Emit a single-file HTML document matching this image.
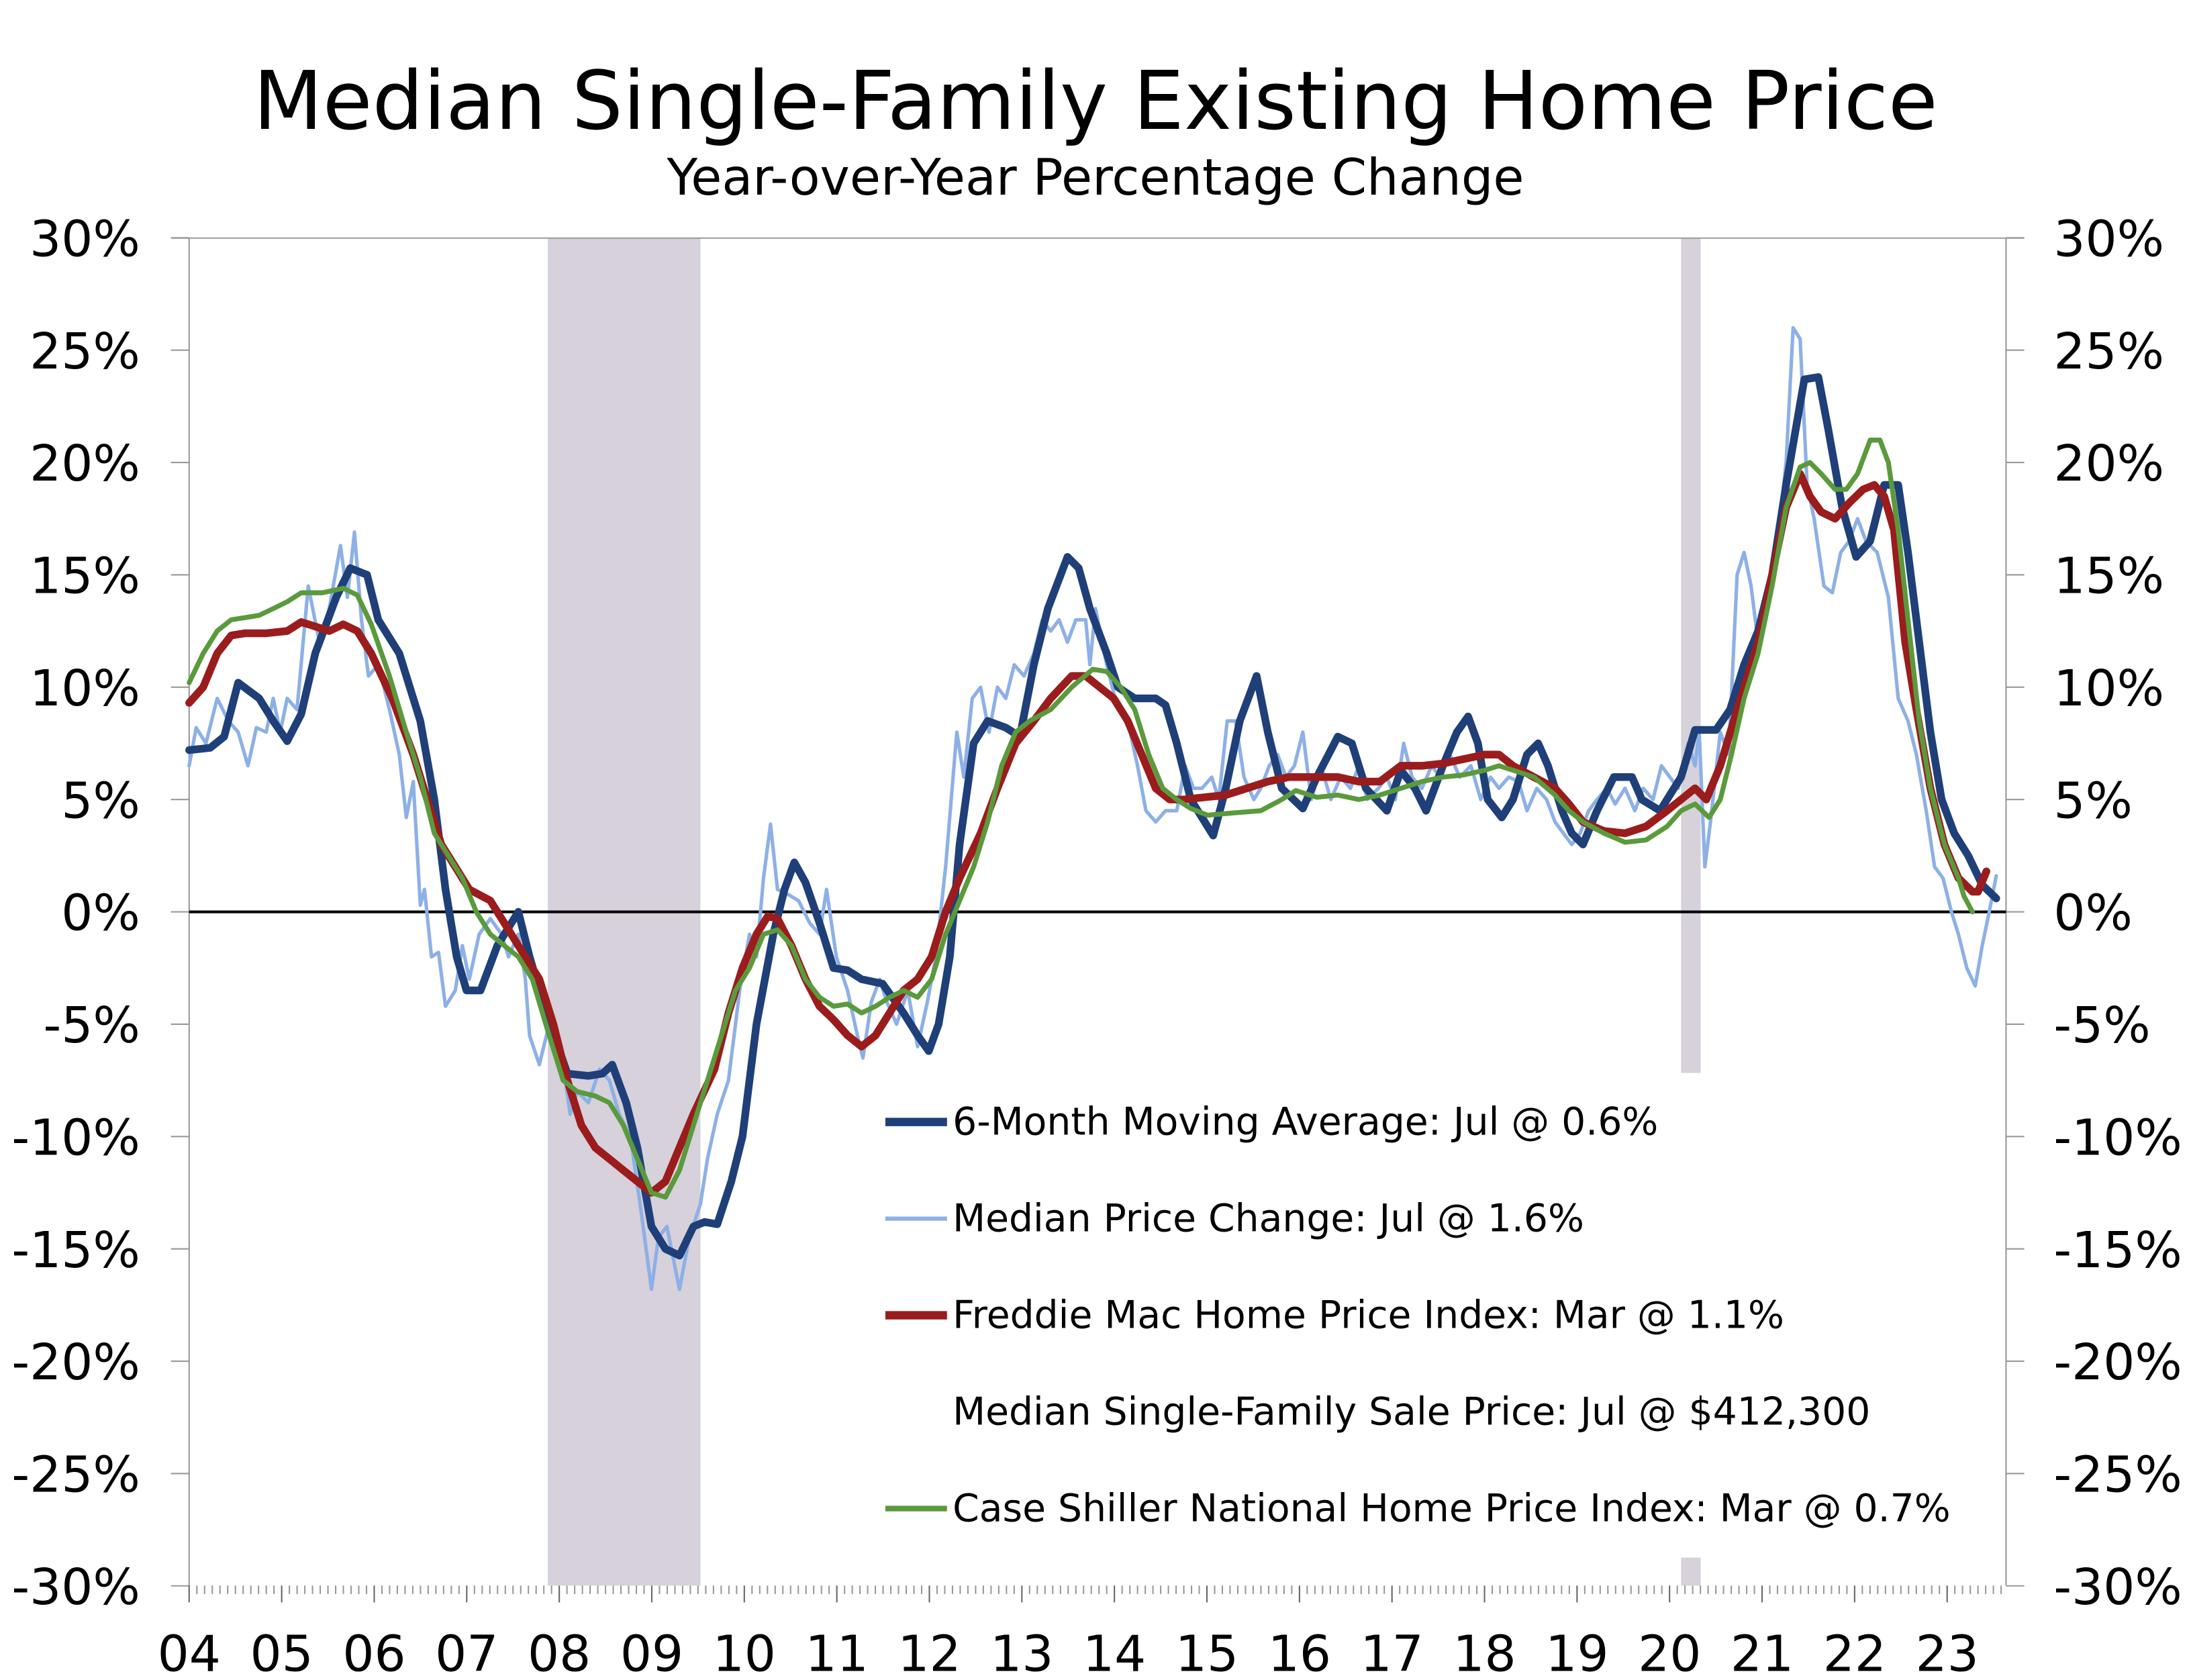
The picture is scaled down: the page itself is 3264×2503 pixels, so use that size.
<!DOCTYPE html>
<html><head><meta charset="utf-8"><style>
html,body{margin:0;padding:0;background:#fff;}
svg{display:block;}
text{font-family:"DejaVu Sans","Liberation Sans",sans-serif;fill:#000;}
</style></head><body>
<svg id="c" width="3264" height="2503" viewBox="0 0 1564 1199.4" xmlns="http://www.w3.org/2000/svg">
<rect width="1564" height="1200" fill="#fff"/>
<rect x="391" y="170" width="109" height="962" fill="#d6d1da"/>
<rect x="1200" y="170" width="14" height="596" fill="#d6d1da"/>
<rect x="1200" y="1112" width="14" height="20" fill="#d6d1da"/>
<g id="axes" stroke="#999" stroke-width="1"></g>
<line x1="135" y1="651" x2="1432" y2="651" stroke="#000" stroke-width="2"/>
<g id="series"></g>
<text x="782" y="92" font-size="57.5" text-anchor="middle">Median Single-Family Existing Home Price</text>
<text x="782" y="139" font-size="35.9" text-anchor="middle">Year-over-Year Percentage Change</text>
<g id="labels" font-size="35.5"></g>
<g font-size="27.2">
<line x1="632" y1="801" x2="676" y2="801" stroke="#1f3f78" stroke-width="6"/>
<text x="680" y="810">6-Month Moving Average: Jul @ 0.6%</text>
<line x1="632" y1="870" x2="676" y2="870" stroke="#8db0e6" stroke-width="3"/>
<text x="680" y="879">Median Price Change: Jul @ 1.6%</text>
<line x1="632" y1="939" x2="676" y2="939" stroke="#9b1c1c" stroke-width="6"/>
<text x="680" y="948">Freddie Mac Home Price Index: Mar @ 1.1%</text>
<text x="680" y="1017">Median Single-Family Sale Price: Jul @ $412,300</text>
<line x1="632" y1="1077" x2="676" y2="1077" stroke="#5a9a3c" stroke-width="4"/>
<text x="680" y="1086">Case Shiller National Home Price Index: Mar @ 0.7%</text>
</g>
</svg>
<script>
var NS="http://www.w3.org/2000/svg";
function Y(v){return 651-v*16.04;}
function el(p,n,a,t){var e=document.createElementNS(NS,n);for(var k in a)e.setAttribute(k,a[k]);if(t!==undefined)e.textContent=t;p.appendChild(e);return e;}
var ax=document.getElementById('axes'),lb=document.getElementById('labels');
el(ax,'line',{x1:135,y1:170,x2:135,y2:1132});
el(ax,'line',{x1:1432,y1:170,x2:1432,y2:1132});
el(ax,'line',{x1:122,y1:170,x2:1445,y2:170});
for(var v=-30;v<=30;v+=5){var y=Y(v);
el(ax,'line',{x1:122,y1:y,x2:135,y2:y});el(ax,'line',{x1:1432,y1:y,x2:1445,y2:y});
el(lb,'text',{x:100,y:y+13,'text-anchor':'end'},v+'%');
el(lb,'text',{x:1466,y:y+13},v+'%');}
for(var m=0;m<=19*12+7;m++){var x=135+m*66.05/12;var big=m%12==0;
el(ax,'line',{x1:x,y1:1132,x2:x,y2:big?1144:1138,stroke:big?'#666':'#999'});}
for(var yr=4;yr<=23;yr++){var x=135+(yr-4)*66.05;el(lb,'text',{x:x,y:1193,'text-anchor':'middle'},(yr<10?'0':'')+yr);}
function P(s){var a=s.trim().split(/\s*,\s*/);var d='';a.forEach(function(q,i){var p=q.split(/\s+/);d+=(i?'L':'M')+p[0]+' '+Y(+p[1]).toFixed(1);});return d;}
var light="135 6.5,140 8.2,147 7.5,155 9.5,163 8.5,170 8,177 6.5,183 8.2,190 8,195 9.5,200 8,205 9.5,212 9,220 14.5,228 12,235 13.5,243 16.3,248 14,253 16.9,258 13,263 10.5,270 11,278 9,285 7,290 4.2,295 5.8,300 0.3,303 1,308 -2,313 -1.8,318 -4.2,325 -3.5,330 -1.5,335 -3,342 -1,350 -0.3,358 -1,363 -2,370 -1,375 -3,378 -5.5,385 -6.8,392 -5,400 -6,407 -9,412 -8,420 -8.5,428 -7,435 -7.5,442 -9,450 -10,458 -13.5,465 -16.8,470 -14.5,476 -14,485 -16.8,492 -14.5,500 -13,505 -11,512 -9,520 -7.5,528 -3.5,535 -1,540 -2,545 1.5,550 3.9,555 1,562 0.8,570 0.5,578 -0.5,585 -1,590 1,597 -2,605 -3.5,612 -5.5,616 -6.5,622 -4,628 -3,633 -4,640 -5,648 -3.5,655 -6,662 -4,668 -2,675 2,683 8,688 6,694 9.5,700 10,706 8,712 10,718 9.5,724 11,731 10.5,738 11.5,744 13,750 12.5,756 13,762 12,768 13,775 13,778 11,782 13.5,790 11,798 9,805 8.5,812 6.5,818 4.5,825 4,832 4.5,840 4.5,846 6.5,852 5.5,858 5.5,865 6,870 5,876 8.5,882 8.5,888 6,895 5,900 5.5,906 6.5,912 7,918 6,924 6.5,930 8,936 5,943 6.5,950 5,957 6,964 5.5,970 6.5,976 5,984 5.5,990 6,996 5,1002 7.5,1008 6,1015 5.5,1022 6.5,1028 6,1035 7,1042 6,1050 6.5,1057 5,1064 6,1070 5.5,1077 6,1084 5.8,1090 4.5,1097 5.5,1104 5,1110 4,1116 3.5,1122 3,1128 3.5,1134 4.5,1140 5,1147 5.5,1153 4.8,1160 5.5,1167 4.5,1173 5.5,1180 5,1186 6.5,1192 6,1198 5.5,1205 7.5,1210 6.5,1213 8,1217 2,1221 4,1228 8,1234 7,1240 15,1245 16,1250 14.5,1255 12,1262 14,1268 16,1275 20,1280 26,1285 25.5,1290 19,1295 17.5,1302 14.5,1308 14.2,1314 16,1320 16.5,1326 17.5,1332 16.5,1340 16,1348 14,1355 9.5,1362 8.5,1368 7,1375 4.5,1381 2,1387 1.5,1393 0,1398 -1,1404 -2.5,1410 -3.3,1415 -1.5,1420 0,1425 1.6";
var dark="135 7.2,150 7.3,160 7.8,170 10.2,185 9.5,195 8.5,205 7.6,215 8.8,225 11.5,240 14,250 15.3,262 15.0,270 13,285 11.5,300 8.5,310 5,318 1,326 -2,333 -3.5,343 -3.5,355 -1.5,365 -0.5,370 0,378 -2,390 -4.5,405 -7.2,420 -7.3,430 -7.2,437 -6.8,447 -8.5,455 -10.5,465 -14,475 -15,485 -15.3,495 -14,503 -13.8,512 -13.9,522 -12,530 -10,540 -5,552 -1,560 1,567 2.2,575 1.3,585 -0.5,595 -2.5,605 -2.6,615 -3,630 -3.2,645 -4.5,655 -5.5,663 -6.2,670 -5,678 -2,685 3,695 7.5,705 8.5,718 8.2,728 7.8,738 11,748 13.5,762 15.8,770 15.3,778 13.5,790 11.5,798 10,810 9.5,825 9.5,832 9.2,840 7.5,850 5,858 4.2,866 3.4,875 5.5,885 8.5,897 10.5,905 8,915 5.5,930 4.6,940 6,955 7.8,965 7.5,975 5.5,990 4.5,1000 6.3,1010 5.5,1018 4.5,1030 6.5,1040 8,1048 8.7,1055 7.5,1062 5,1072 4.2,1080 5,1090 7,1098 7.5,1105 6.5,1115 4.5,1122 3.5,1130 3,1140 4.5,1152 6,1165 6,1172 5,1185 4.5,1200 6,1210 8.1,1225 8.1,1235 9,1245 11,1255 12.5,1265 15,1275 19,1288 23.7,1298 23.8,1305 21.5,1315 18,1325 15.8,1335 16.5,1345 19,1355 19,1362 16,1370 12,1378 8,1386 5,1395 3.5,1405 2.5,1415 1.2,1425 0.6";
var red="135 9.3,145 10,155 11.5,165 12.3,175 12.4,190 12.4,205 12.5,215 12.9,225 12.7,235 12.5,245 12.8,255 12.5,265 11.5,280 9.5,295 7,305 5,315 3,325 2,335 1,350 0.5,360 -0.5,370 -1.5,385 -3,395 -5,405 -7.5,415 -9.5,425 -10.5,435 -11,445 -11.5,455 -12,465 -12.5,475 -12,485 -10.5,495 -9,510 -7,520 -4.5,530 -2.5,540 -1,548 -0.2,555 -0.3,565 -1.5,575 -3,585 -4.2,595 -4.8,605 -5.5,615 -6,625 -5.5,635 -4.5,645 -3.5,655 -3,665 -2,675 0,685 1.5,700 3.5,712 5.5,725 7.5,738 8.5,750 9.5,765 10.5,775 10.5,785 10,795 9.5,805 8.5,815 7,825 5.5,835 5,845 5,860 5.1,875 5.2,890 5.5,905 5.8,920 6,940 6,955 6,970 5.8,985 5.8,1000 6.5,1015 6.5,1030 6.6,1045 6.8,1060 7,1070 7,1080 6.5,1095 6,1110 5.5,1120 4.8,1130 4,1145 3.6,1160 3.5,1175 3.8,1190 4.5,1200 5,1210 5.5,1218 5,1228 6.5,1240 9,1255 12,1265 15,1275 18,1285 19.5,1292 18.5,1300 17.8,1310 17.5,1320 18.2,1330 18.8,1338 19,1345 18.5,1352 17,1360 12,1368 9,1378 5.5,1388 3,1398 1.5,1408 0.9,1412 0.9,1418 1.8";
var green="135 10.2,145 11.5,155 12.5,165 13,175 13.1,185 13.2,195 13.5,205 13.8,215 14.2,230 14.2,245 14.4,255 14.1,265 12.8,278 10.5,290 8,300 6,310 3.5,320 2.5,330 1.5,340 0,350 -1,360 -1.5,370 -2,380 -3,392 -5.5,402 -7.5,412 -8,425 -8.2,435 -8.5,445 -9.5,455 -11,465 -12.5,475 -12.7,485 -11.5,495 -9.5,505 -7.5,515 -5.5,525 -3.5,535 -2.5,545 -1,555 -0.8,565 -1.5,575 -3,585 -3.8,595 -4.2,605 -4.1,615 -4.5,625 -4.2,635 -3.8,645 -3.5,655 -3.8,665 -3,675 -1,685 0.5,695 2,705 4,715 6.5,725 8,735 8.5,750 9,765 10,780 10.8,790 10.7,800 10,810 9,820 7,830 5.5,840 5,850 4.6,862 4.3,880 4.4,900 4.5,915 5,925 5.4,940 5.1,955 5.2,970 5,985 5.2,1000 5.5,1015 5.8,1030 6,1045 6.1,1060 6.3,1070 6.5,1080 6.3,1095 6,1110 5.2,1120 4.5,1130 4,1145 3.5,1160 3.1,1175 3.2,1190 3.8,1200 4.5,1210 4.8,1220 4.2,1228 5,1236 7,1245 9.5,1255 11.5,1265 14.5,1275 18,1285 19.8,1292 20,1300 19.5,1310 18.8,1318 18.8,1326 19.5,1335 21,1342 21,1348 20,1355 17,1362 13,1370 8.5,1378 5.5,1388 3,1398 1.5,1402 0.7,1408 0";
var s=document.getElementById('series');
var base={fill:'none','stroke-linejoin':'round','stroke-linecap':'round'};
function add(d,c,w){var a=Object.assign({},base,{d:P(d),stroke:c,'stroke-width':w});el(s,'path',a);}
add(light,'#8db0e6',2.5);add(dark,'#1f3f78',5.5);add(red,'#9b1c1c',5.5);add(green,'#5a9a3c',3.5);
</script>
</body></html>
